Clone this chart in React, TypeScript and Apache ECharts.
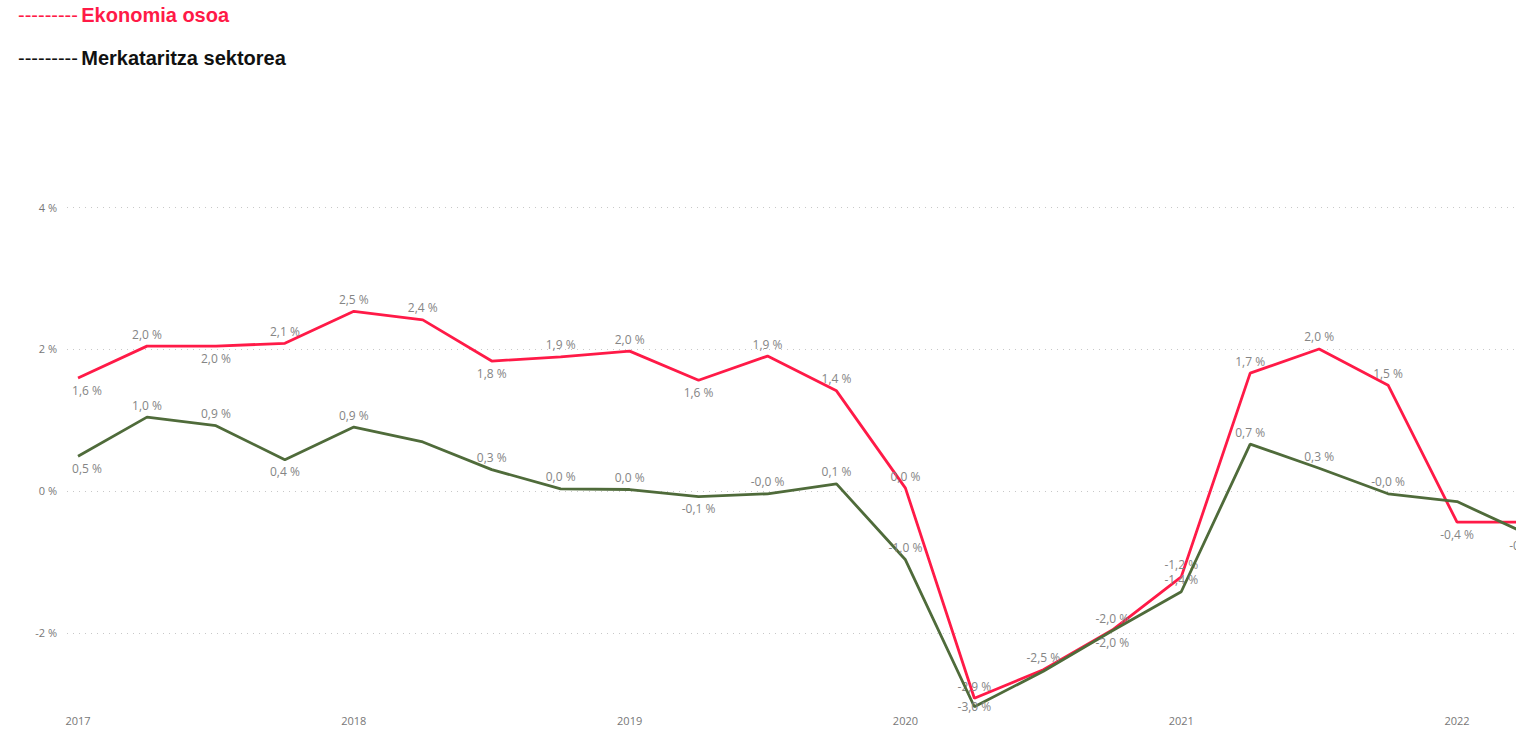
import React, { useEffect, useRef } from "react";
import * as echarts from "echarts";

const periods = [
  "2017 Q1", "2017 Q2", "2017 Q3", "2017 Q4",
  "2018 Q1", "2018 Q2", "2018 Q3", "2018 Q4",
  "2019 Q1", "2019 Q2", "2019 Q3", "2019 Q4",
  "2020 Q1", "2020 Q2", "2020 Q3", "2020 Q4",
  "2021 Q1", "2021 Q2", "2021 Q3", "2021 Q4",
  "2022 Q1", "2022 Q2",
];

const ekonomiaOsoa = [
  1.59, 2.04, 2.04, 2.08,
  2.53, 2.41, 1.83, 1.89,
  1.97, 1.56, 1.9, 1.41,
  0.04, -2.92, -2.52, -1.96,
  -1.21, 1.66, 2.0, 1.49,
  -0.44, -0.44,
];

const merkataritza = [
  0.49, 1.04, 0.92, 0.44,
  0.9, 0.69, 0.3, 0.03,
  0.02, -0.08, -0.04, 0.1,
  -0.97, -3.04, -2.54, -1.97,
  -1.42, 0.66, 0.32, -0.04,
  -0.15, -0.6,
];

// label placement for each point (null = no label)
const ekonomiaLabelPos: (string | null)[] = [
  "bottom", "top", "bottom", "top",
  "top", "top", "bottom", "top",
  "top", "bottom", "top", "top",
  "top", "top", "top", "top",
  "top", "top", "top", "top",
  "bottom", null,
];

const merkataritzaLabelPos: (string | null)[] = [
  "bottom", "top", "top", "bottom",
  "top", null, "top", "top",
  "top", "bottom", "top", "top",
  "top", "inside", null, "bottom",
  "top", "top", "top", "top",
  null, "bottom",
];

const yearLabels = [2017, 2018, 2019, 2020, 2021, 2022];
const yTicks = [-2, 0, 2, 4];

const legendItems = [
  { name: "Ekonomia osoa", color: "#FF1A47" },
  { name: "Merkataritza sektorea", color: "#111111" },
];

const RED = "#FF1A47";
const GREEN = "#4F6B3A";

function periodToX(p: string): number {
  const [y, q] = p.split(" ");
  return Number(y) + (Number(q.replace("Q", "")) - 1) * 0.25;
}

function fmt(v: number): string {
  return v.toFixed(1).replace(".", ",") + " %";
}

function buildData(values: number[], pos: (string | null)[]) {
  return values.map((v, i) => ({
    value: [periodToX(periods[i]), v],
    label: pos[i]
      ? { show: true, position: pos[i], offset: i === 0 ? [9, 0] : [0, 0] }
      : { show: false },
  }));
}

export default function App() {
  const ref = useRef<HTMLDivElement>(null);

  useEffect(() => {
    document.body.style.margin = "0";
    if (!ref.current) return;
    const chart = echarts.init(ref.current, null, { renderer: "svg" });
    const labelStyle = {
      fontFamily: "'Open Sans', sans-serif",
      fontSize: 12,
      color: "#858585",
      distance: 6,
      formatter: (p: any) => fmt(p.value[1]),
    };
    chart.setOption({
      animation: false,
      backgroundColor: "#ffffff",
      grid: { left: 67, right: 20, top: 207, bottom: 32, containLabel: false },
      xAxis: {
        type: "value",
        min: 2016.96,
        max: 2022.3008,
        axisLine: { show: false },
        axisTick: { show: false },
        splitLine: { show: false },
        axisLabel: {
          customValues: yearLabels,
          formatter: (v: number) => String(Math.round(v)),
          color: "#777777",
          fontFamily: "'Open Sans', sans-serif",
          fontSize: 11,
          margin: 4,
        },
      },
      yAxis: {
        type: "value",
        min: -3.1,
        max: 4,
        splitNumber: 3,
        axisLine: { show: false },
        axisTick: { show: false },
        axisLabel: {
          showMinLabel: false,
          formatter: (v: number) => (yTicks.includes(v) ? `${v} %` : ""),
          color: "#777777",
          fontFamily: "'Open Sans', sans-serif",
          fontSize: 11,
          margin: 10,
        },
        splitLine: {
          show: true,
          showMinLine: false,
          lineStyle: { color: "#c8c8c8", type: [1, 5], width: 1 },
        },
      },
      graphic: legendItems.map((it, i) => ({
        type: "text",
        left: 18,
        top: 5 + i * 43,
        style: {
          text: `{d|---------} {t|${it.name}}`,
          rich: {
            d: { fill: it.color, fontSize: 20, fontFamily: "'Liberation Sans', Arial, sans-serif" },
            t: {
              fill: it.color,
              fontSize: 20,
              fontWeight: "bold",
              fontFamily: "'Liberation Sans', Arial, sans-serif",
            },
          },
        },
      })),
      series: [
        {
          name: "Ekonomia osoa",
          type: "line",
          data: buildData(ekonomiaOsoa, ekonomiaLabelPos),
          symbol: "circle",
          symbolSize: 0.1,
          lineStyle: { color: RED, width: 2.8 },
          itemStyle: { color: RED },
          label: labelStyle,
          z: 3,
        },
        {
          name: "Merkataritza sektorea",
          type: "line",
          data: buildData(merkataritza, merkataritzaLabelPos),
          symbol: "circle",
          symbolSize: 0.1,
          lineStyle: { color: GREEN, width: 2.8 },
          itemStyle: { color: GREEN },
          label: labelStyle,
          z: 4,
        },
      ],
    });
    return () => chart.dispose();
  }, []);

  return (
    <div style={{ width: 1516, height: 743, overflow: "hidden", position: "relative" }}>
      <div ref={ref} style={{ width: 1560, height: 743 }} />
    </div>
  );
}
